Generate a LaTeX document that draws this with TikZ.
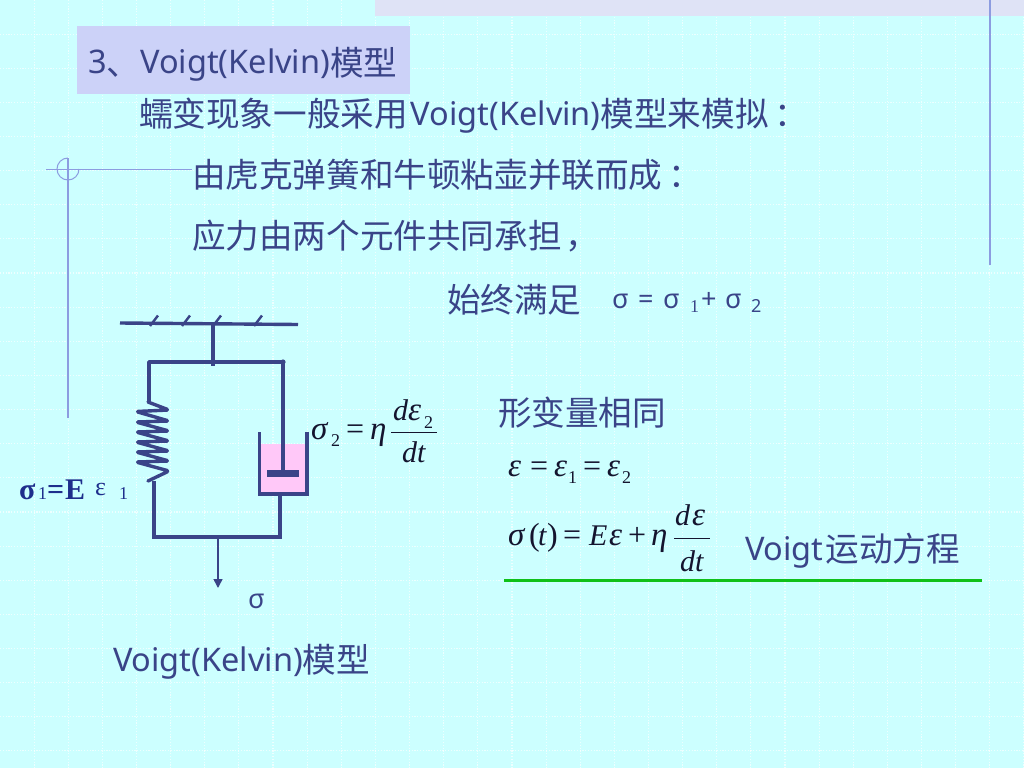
\documentclass[tikz,border=0pt]{standalone}
\usepackage{fontspec}
\setmainfont{Noto Sans}
\newfontfamily\cjk{Noto Sans CJK SC}
\newfontfamily\tms{Liberation Serif}
\usetikzlibrary{arrows.meta}
\definecolor{bgc}{HTML}{CCFFFF}
\definecolor{ink}{HTML}{3A4488}
\definecolor{deep}{HTML}{1E2E8C}
\definecolor{titlebg}{HTML}{CCD2F8}
\definecolor{band}{HTML}{DFE3F6}
\definecolor{rulec}{HTML}{8C9CE0}
\definecolor{wire}{HTML}{3A4488}
\definecolor{fluid}{HTML}{FFC8F8}
\definecolor{greenl}{HTML}{10C018}
\definecolor{formula}{HTML}{14142E}
\tikzset{
  x=1pt,y=-1pt,
  txt/.style={anchor=base west,inner sep=0pt,outer sep=0pt,text=ink,font=\fontsize{32.5}{36}\selectfont},
  txs/.style={anchor=base west,inner sep=0pt,outer sep=0pt,text=ink,font=\fontsize{27}{30}\selectfont},
  fml/.style={anchor=base west,inner sep=0pt,outer sep=0pt,text=formula,font=\tms\fontsize{32}{34}\selectfont},
  fmi/.style={anchor=base west,inner sep=0pt,outer sep=0pt,text=formula,font=\tms\itshape\fontsize{30}{34}\selectfont},
  fmg/.style={anchor=base west,inner sep=0pt,outer sep=0pt,text=formula,font=\tms\itshape\fontsize{33}{34}\selectfont},
  fmls/.style={anchor=base west,inner sep=0pt,outer sep=0pt,text=formula,font=\tms\fontsize{18}{20}\selectfont},
  lab/.style={anchor=base west,inner sep=0pt,outer sep=0pt,text=deep,font=\tms\bfseries\fontsize{30}{34}\selectfont},
  labs/.style={anchor=base west,inner sep=0pt,outer sep=0pt,text=deep,font=\tms\fontsize{18}{20}\selectfont},
  wirel/.style={draw=wire,line width=3.4pt,line join=miter},
  gridl/.style={draw=white,line width=1.1pt,dash pattern=on 1.2pt off 1.6pt,opacity=.65},
  deco/.style={draw=rulec,line width=1.3pt},
}
\newcommand{\zh}[1]{{\cjk\fontsize{33.6}{36}\selectfont\raisebox{-1.5pt}{#1}}}
\begin{document}
\begin{tikzpicture}
\useasboundingbox (0,0) rectangle (1024,768);
\fill[bgc] (0,0) rectangle (1024,768);
\foreach \k in {1,...,30} \draw[gridl] ({34.13*\k},0) -- ({34.13*\k},768);
\foreach \k in {1,...,22} \draw[gridl] (0,{34.13*\k}) -- (1024,{34.13*\k});
\fill[band] (375,0) rectangle (1024,16);
\draw[deco] (990,0) -- (990,265);
\draw[deco] (68,158) -- (68,418);
\draw[draw=rulec,line width=1pt] (68,158) arc[start angle=-90,end angle=-360,radius=11];
\draw[draw=rulec,line width=1pt] (46,169) -- (192,169);
\fill[titlebg] (77,26) rectangle (410,94);
% texts
\node[txt] (title) at (88,74) {3\zh{、}Voigt(Kelvin)\zh{模型}};
\node[txt] (l1) at (139,125) {\zh{蠕变现象一般采用}\hspace{3pt}Voigt(Kelvin)\zh{模型来模拟\hspace{6pt}：}};
\node[txt] (l2) at (192,186) {\zh{由虎克弹簧和牛顿粘壶并联而成\hspace{6pt}：}};
\node[txt] (l3) at (192,247) {\zh{应力由两个元件共同承担\hspace{4pt}，}};
\node[txt] (l4) at (447,311) {\zh{始终满足}};
\node[txs] (s0) at (612,308) {σ};
\node[txs] (s0b) at (638,308) {=};
\node[txs] (s0c) at (663,308) {σ};
\node[txs,font=\tms\fontsize{18}{20}\selectfont] (s1) at (690,312) {1};
\node[txs] (s2) at (701,308) {+};
\node[txs] (s2b) at (725,308) {σ};
\node[txs,font=\fontsize{18}{20}\selectfont] (s3) at (751,312) {2};
\node[txt] (l5) at (498,424) {\zh{形变量相同}};
\node[txt] (l6) at (745,560) {Voigt\hspace{2pt}\zh{运动方程}};
\node[txt] (l7) at (113,671) {Voigt(Kelvin)\zh{模型}};
% diagram
\coordinate (barL) at (120,323);
\coordinate (barR) at (298,324.5);
\draw[wirel] (barL) -- (barR);
\foreach \x/\n in {150/a,182/b,213/c,254/d} {
  \coordinate (tk\n) at (\x,326);
  \coordinate (te\n) at (\x+8,315.5);
  \draw[draw=wire,line width=2.4pt] (tk\n) -- (te\n);
}
\coordinate (railT) at (213,323.5);
\coordinate (railB) at (213,366);
\draw[wirel] (railT) -- (railB);
\coordinate (railL) at (149,362);
\coordinate (railR) at (283,362);
\coordinate (sprT) at (149,402);
\coordinate (botL) at (154,537);
\coordinate (botR) at (280,537);
\draw[wirel,line join=round] (sprT) -- (railL) -- (railR);
\fill[wire] (railR) circle (2.6);
% spring
\draw[draw=wire,line width=3.4pt,line cap=round,line join=round,rounded corners=1.8pt]
  (148,402) -- (169,410) -- (136,411.5) -- (169,421) -- (136,422) -- (169,431)
  -- (136,432) -- (169,441) -- (136,442) -- (169,451) -- (136,452) -- (169,461)
  -- (136,462) -- (169,471) -- (148,481);
\draw[wirel] (154,481) -- (botL) -- (botR) -- (280,494);
% dashpot
\fill[fluid] (259,444) rectangle (307,494);
\coordinate (cupTL) at (259.5,432);
\coordinate (cupBL) at (259.5,494);
\coordinate (cupBR) at (307,494);
\coordinate (cupTR) at (307,432);
\draw[wirel] (cupTL) -- (cupBL) -- (cupBR) -- (cupTR);
\draw[wirel] (railR) -- (283,473);
\fill[wire] (267,470) rectangle (299,477);
% arrow
\coordinate (arrS) at (218,537);
\coordinate (arrE) at (218,588);
\draw[draw=wire,line width=1.5pt,-{Triangle[length=9pt,width=9pt]}] (arrS) -- (arrE);
\node[txs] (sig) at (248,608) {σ};
% sigma1 label
\node[lab] (e1) at (19,499) {σ};
\node[labs] (e2) at (38,499) {1};
\node[lab] (e3) at (47,499) {=};
\node[lab] (e3b) at (65,499) {E};
\node[labs,font=\tms\fontsize{26}{28}\selectfont] (e4) at (95,495) {ε};
\node[labs] (e5) at (119,499) {1};
% formula sigma2
\node[fmg] (f1) at (311,439) {σ};
\node[fmls] (f2) at (331,446) {2};
\node[fml] (f3) at (346,439) {=};
\node[fmg] (f4) at (370,439) {η};
\node[fmi] (f5) at (393,420) {d};
\node[fmg] (f5b) at (408,420) {ε};
\node[fmls] (f6) at (424,428) {2};
\node[fmi] (f7) at (402,462) {dt};
\coordinate (fbL) at (391,432);
\coordinate (fbR) at (437,432);
\draw[draw=formula,line width=1pt] (fbL) -- (fbR);
% epsilon line
\node[fmg] (g1) at (508,476) {ε};
\node[fml] (g2) at (530,476) {=};
\node[fmg] (g3) at (554,476) {ε};
\node[fmls] (g4) at (568,483) {1};
\node[fml] (g5) at (583,476) {=};
\node[fmg] (g6) at (607,476) {ε};
\node[fmls] (g7) at (622,483) {2};
% sigma(t) line
\node[fmg] (h1) at (508,545) {σ};
\node[fml] (h2) at (529,545) {(};
\node[fmi] (h3) at (538,545) {t};
\node[fml] (h4) at (547,545) {)};
\node[fml] (h5) at (563,545) {=};
\node[fmi] (h6) at (589,545) {E};
\node[fmg] (h6b) at (609,545) {ε};
\node[fml] (h7) at (628,545) {+};
\node[fmg] (h8) at (651,545) {η};
\node[fmi] (h9) at (675,525) {d};
\node[fmg] (h9b) at (692,525) {ε};
\node[fmi] (h10) at (680,571) {dt};
\coordinate (hbL) at (674,538);
\coordinate (hbR) at (710,538);
\draw[draw=formula,line width=1pt] (hbL) -- (hbR);
\coordinate (gL) at (504,580);
\coordinate (gR) at (982,580);
\draw[draw=greenl,line width=3pt] (gL) -- (gR);
\end{tikzpicture}
\end{document}
